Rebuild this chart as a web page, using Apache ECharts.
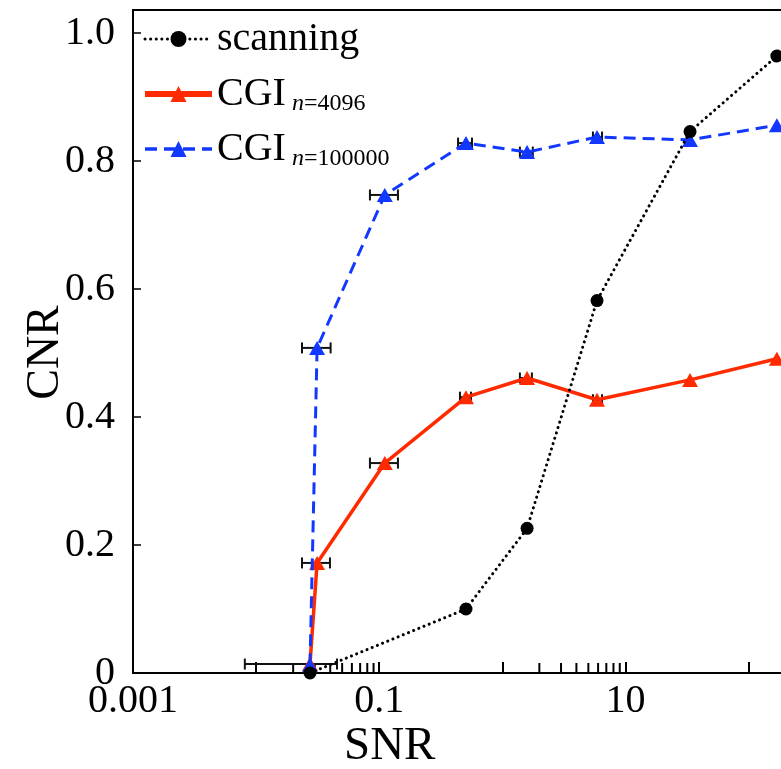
<!DOCTYPE html>
<html>
<head>
<meta charset="utf-8">
<script src="https://cdn.jsdelivr.net/npm/echarts@6/dist/echarts.min.js"></script>
<style>
  html, body { margin: 0; padding: 0; background: #fff; }
  #chart { width: 781px; height: 769px; }
</style>
</head>
<body>
<div id="chart"></div>
<script>
// SNR positions shared by the CGI measurements
const snr = [0.0274, 0.0313, 0.111, 0.507, 1.59, 5.88, 33.5, 170];

// Point-scanning reference
const scanSNR = [0.0274, 0.507, 1.59, 5.88, 33.5, 170];
const scanCNR = [0, 0.10, 0.226, 0.582, 0.846, 0.964];

// CGI with n = 4096 and n = 100000 measurements
const cgi4096CNR = [0.014, 0.172, 0.328, 0.431, 0.461, 0.427, 0.458, 0.491];
const cgi100000CNR = [0.012, 0.508, 0.747, 0.828, 0.814, 0.8375, 0.833, 0.856];

// Horizontal SNR error bars: [low, high] per point (null = none drawn)
const err4096 = [[0.0081, 0.0454], [0.0236, 0.0398], [0.0841, 0.142], [0.453, 0.557],
                 [1.39, 1.74], [5.45, 6.46], null, null];
const err100000 = [null, [0.0236, 0.0403], [0.0841, 0.142], [0.437, 0.567],
                   [1.39, 1.77], [5.45, 6.46], null, null];

// Minor ticks along the SNR axis
const minorTicks = [0.02, 0.03, 0.04, 0.05, 0.06, 0.07, 0.08, 0.09,
                    2, 3, 4, 5, 6, 7, 8, 9];

const yTicks = [0, 0.2, 0.4, 0.6, 0.8, 1.0];
const xLabelExponents = [-3, -1, 1];

const FONT = "'Liberation Serif', 'Times New Roman', serif";
const RED = '#ff2a00';
const BLUE = '#1238ff';

function zip(xs, ys) { return xs.map((x, i) => [x, ys[i]]); }

function errRows(errs, ys) {
  const rows = [];
  errs.forEach((e, i) => { if (e) rows.push([e[0], ys[i], e[1]]); });
  return rows;
}

const errData = errRows(err4096, cgi4096CNR).concat(errRows(err100000, cgi100000CNR));

const chart = echarts.init(document.getElementById('chart'));

chart.setOption({
  animation: false,
  backgroundColor: '#fff',
  grid: {
    left: 133, top: 10, width: 123.1 * 6, height: 663,
    outerBoundsMode: 'none', containLabel: false,
    show: true, borderColor: '#000', borderWidth: 2
  },
  xAxis: {
    type: 'log', logBase: 10, min: 0.001, max: 1000, splitNumber: 6,
    axisLine: { lineStyle: { color: '#000', width: 2 } },
    axisTick: { inside: true, length: 11, lineStyle: { color: '#000', width: 2 } },
    splitLine: { show: false },
    axisLabel: {
      color: '#000', fontFamily: FONT, fontSize: 40, margin: 8,
      formatter: function (v) {
        const e = Math.round(Math.log10(v));
        if (xLabelExponents.indexOf(e) < 0) return '';
        return e < 0 ? (Math.pow(10, e)).toFixed(-e) : String(Math.pow(10, e));
      }
    }
  },
  yAxis: {
    type: 'value', min: 0, max: 1.036, interval: 0.2,
    name: 'CNR', nameLocation: 'middle', nameRotate: 90, nameGap: 64,
    nameMoveOverlap: false,
    nameTextStyle: { color: '#000', fontFamily: FONT, fontSize: 46, padding: [0, 0, 0, -22] },
    axisLine: { lineStyle: { color: '#000', width: 2 } },
    axisTick: { inside: true, length: 8, lineStyle: { color: '#000', width: 1.5 } },
    splitLine: { show: false },
    axisLabel: {
      color: '#000', fontFamily: FONT, fontSize: 40, margin: 18, showMaxLabel: false,
      formatter: function (v) {
        const hit = yTicks.find(t => Math.abs(t - v) < 1e-6);
        if (hit === undefined) return '';
        return hit === 0 ? '0' : hit.toFixed(1);
      }
    }
  },
  legend: {
    orient: 'vertical', left: 137, top: 12,
    itemWidth: 67, itemHeight: 20, itemGap: 11,
    data: [
      { name: 'scanning', lineStyle: { width: 3 } },
      { name: 'CGI_4096', lineStyle: { width: 6 } },
      { name: 'CGI_100000', lineStyle: { width: 3.5 } }
    ],
    textStyle: {
      color: '#000', fontFamily: FONT, fontSize: 40, lineHeight: 44,
      rich: {
        m: { fontFamily: FONT, fontSize: 40, lineHeight: 44, color: '#000' },
        n: { fontFamily: FONT, fontSize: 24, fontStyle: 'italic', lineHeight: 38, verticalAlign: 'bottom', color: '#000', padding: [0, 0, 0, 6] },
        s: { fontFamily: FONT, fontSize: 24, lineHeight: 38, verticalAlign: 'bottom', color: '#000' }
      }
    },
    formatter: function (name) {
      if (name === 'scanning') return '{m|scanning}';
      if (name === 'CGI_4096') return '{m|CGI}{n|n}{s|=4096}';
      return '{m|CGI}{n|n}{s|=100000}';
    }
  },
  graphic: [{
    type: 'text', left: 344, top: 723,
    style: { text: 'SNR', fontFamily: FONT, fontSize: 47, fill: '#000' }
  }],
  series: [
    {
      // minor tick marks along the log axis
      type: 'custom', name: 'minorTicks', silent: true, z: 1,
      data: minorTicks.map(v => [v, 0]),
      encode: { x: 0, y: 1 },
      renderItem: function (params, api) {
        const p = api.coord([api.value(0), 0]);
        return {
          type: 'line',
          shape: { x1: p[0], y1: p[1], x2: p[0], y2: p[1] - 10 },
          style: { stroke: '#000', lineWidth: 2 }
        };
      }
    },
    {
      // horizontal error bars on SNR
      type: 'custom', name: 'errors', silent: true, z: 1,
      data: errData,
      encode: { x: [0, 2], y: 1 },
      renderItem: function (params, api) {
        const y = api.value(1);
        const a = api.coord([api.value(0), y]);
        const b = api.coord([api.value(2), y]);
        const h = 5.5;
        const st = { stroke: '#111', lineWidth: 2 };
        return {
          type: 'group',
          children: [
            { type: 'line', shape: { x1: a[0], y1: a[1], x2: b[0], y2: b[1] }, style: st },
            { type: 'line', shape: { x1: a[0], y1: a[1] - h, x2: a[0], y2: a[1] + h }, style: st },
            { type: 'line', shape: { x1: b[0], y1: b[1] - h, x2: b[0], y2: b[1] + h }, style: st }
          ]
        };
      }
    },
    {
      name: 'CGI_4096', type: 'line', z: 3,
      data: zip(snr, cgi4096CNR),
      symbol: 'triangle', symbolSize: [16, 14],
      itemStyle: { color: RED },
      lineStyle: { color: RED, width: 3.5 }
    },
    {
      name: 'CGI_100000', type: 'line', z: 4,
      data: zip(snr, cgi100000CNR),
      symbol: 'triangle', symbolSize: [16, 14],
      itemStyle: { color: BLUE },
      lineStyle: { color: BLUE, width: 3, type: [12, 7] }
    },
    {
      name: 'scanning', type: 'line', z: 5,
      data: zip(scanSNR, scanCNR),
      symbol: 'circle', symbolSize: 13,
      itemStyle: { color: '#000' },
      lineStyle: { color: '#000', width: 3, type: [0.1, 5.5], cap: 'round' }
    }
  ]
});
</script>
</body>
</html>
